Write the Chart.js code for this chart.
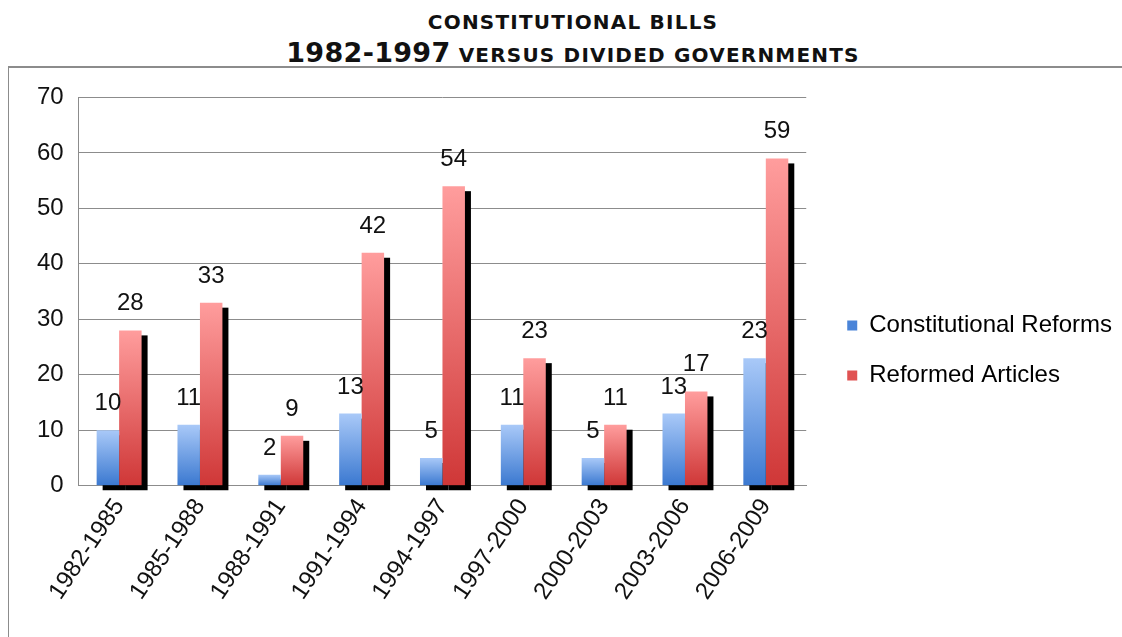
<!DOCTYPE html>
<html>
<head>
<meta charset="utf-8">
<script src="https://cdn.jsdelivr.net/npm/chart.js@4"></script>
<style>
  body { margin: 0; background: #fff; width: 1122px; height: 637px; overflow: hidden; position: relative; }
  #title { position: absolute; left: 13px; top: 7px; width: 1120px; text-align: center; font-family: "DejaVu Sans", Verdana, sans-serif; font-weight: bold; color: #111; }
  #title .l1 { font-size: 20px; letter-spacing: 1.2px; line-height: 30px; }
  #title .l2 { font-size: 20px; letter-spacing: 1.2px; line-height: 32px; }
  #title .big { font-size: 27px; letter-spacing: 0.3px; }
  #frame { position: absolute; left: 8px; top: 66px; width: 1130px; height: 580px; border-top: 2px solid #8c8c8c; border-left: 1px solid #8c8c8c; }
  #wrap { position: absolute; left: 0; top: 0; width: 1114px; height: 569px; }
</style>
</head>
<body>
<div id="title">
  <div class="l1">CONSTITUTIONAL BILLS</div>
  <div class="l2"><span class="big">1982-1997</span> VERSUS DIVIDED GOVERNMENTS</div>
</div>
<div id="frame"><div id="wrap"><canvas id="myChart"></canvas></div></div>
<script>
const periods = ['1982-1985', '1985-1988', '1988-1991', '1991-1994', '1994-1997', '1997-2000', '2000-2003', '2003-2006', '2006-2009'];
const constitutionalReforms = [10, 11, 2, 13, 5, 11, 5, 13, 23];
const reformedArticles = [28, 33, 9, 42, 54, 23, 11, 17, 59];

const barGradient = (top, bottom) => (ctx) => {
    const chart = ctx.chart;
    if (!chart.chartArea || ctx.raw === undefined) return bottom;
    const y = chart.scales.y;
    const g = chart.ctx.createLinearGradient(0, y.getPixelForValue(ctx.raw), 0, y.getPixelForValue(0));
    g.addColorStop(0, top);
    g.addColorStop(1, bottom);
    return g;
};

// black drop shadow behind each bar, like the office chart
const barShadow = {
    id: 'barShadow',
    beforeDatasetsDraw(chart) {
        const c = chart.ctx;
        c.save();
        c.fillStyle = '#000';
        chart.data.datasets.forEach((ds, i) => {
            chart.getDatasetMeta(i).data.forEach(bar => {
                const w = bar.width;
                c.fillRect(bar.x - w / 2 + 6, bar.y + 5, w, bar.base - bar.y);
            });
        });
        c.restore();
    }
};

const valueLabels = {
    id: 'valueLabels',
    afterDatasetsDraw(chart) {
        const c = chart.ctx;
        c.save();
        c.font = '24px "Liberation Sans", Arial, sans-serif';
        c.fillStyle = '#111';
        c.textAlign = 'center';
        c.textBaseline = 'alphabetic';
        chart.data.datasets.forEach((ds, i) => {
            chart.getDatasetMeta(i).data.forEach((bar, j) => {
                c.fillText(ds.data[j], bar.x, bar.y - 20);
            });
        });
        c.restore();
    }
};

const legendColors = ['#4a84d8', '#e05252'];

new Chart(document.getElementById('myChart'), {
    type: 'bar',
    data: {
        labels: periods,
        datasets: [
            {
                label: 'Constitutional Reforms',
                data: constitutionalReforms,
                backgroundColor: barGradient('#a9c9f8', '#3a78d0')
            },
            {
                label: 'Reformed Articles',
                data: reformedArticles,
                backgroundColor: barGradient('#ff9d9d', '#cf3737')
            }
        ]
    },
    options: {
        responsive: true,
        maintainAspectRatio: false,
        animation: false,
        categoryPercentage: 0.556,
        barPercentage: 1,
        layout: { padding: { left: 13, top: 20, right: 1, bottom: 24 } },
        plugins: {
            title: { display: false },
            tooltip: { enabled: false },
            legend: {
                position: 'right',
                maxWidth: 400,
                labels: {
                    font: { family: '"Liberation Sans", Arial, sans-serif', size: 24 },
                    color: '#111',
                    boxWidth: 10,
                    boxHeight: 10,
                    padding: 26,
                    generateLabels(chart) {
                        return chart.data.datasets.map((ds, i) => ({
                            text: ds.label,
                            fillStyle: legendColors[i],
                            strokeStyle: legendColors[i],
                            lineWidth: 0,
                            hidden: false,
                            datasetIndex: i
                        }));
                    }
                }
            }
        },
        scales: {
            x: {
                grid: { display: false, drawTicks: false },
                border: { display: true, color: '#8c8c8c' },
                ticks: {
                    font: { family: '"Liberation Sans", Arial, sans-serif', size: 24 },
                    color: '#111',
                    minRotation: 56,
                    maxRotation: 56,
                    padding: 8
                }
            },
            y: {
                min: 0,
                max: 70,
                grid: { color: '#8c8c8c', drawTicks: false },
                border: { display: true, color: '#8c8c8c' },
                ticks: {
                    stepSize: 10,
                    font: { family: '"Liberation Sans", Arial, sans-serif', size: 24 },
                    color: '#111',
                    padding: 15
                }
            },
            // empty right axis, only keeps a gap between plot and legend
            gap: {
                type: 'linear',
                position: 'right',
                display: true,
                grid: { display: false, drawTicks: false },
                border: { display: false },
                ticks: { display: false },
                afterFit(scale) { scale.width = 15; }
            }
        }
    },
    plugins: [barShadow, valueLabels]
});
</script>
</body>
</html>
